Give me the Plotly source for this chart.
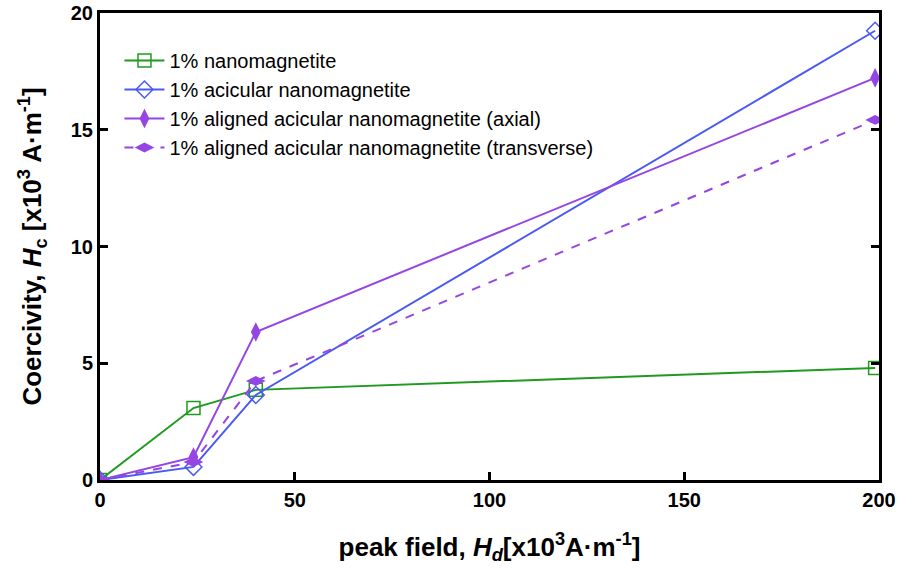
import plotly.graph_objects as go

x_vals = [0, 24, 40, 199]
nano = [0, 3.08, 3.86, 4.8]
acicular = [0, 0.56, 3.64, 19.24]
axial = [0, 0.98, 6.34, 17.22]
transverse = [0, 0.77, 4.24, 15.42]

names = ["1% nanomagnetite", "1% acicular nanomagnetite",
         "1% aligned acicular nanomagnetite (axial)",
         "1% aligned acicular nanomagnetite (transverse)"]

GREEN = "#1f9a1f"
BLUE = "#4a5af2"
PURPLE = "#9545e3"
FAM = "Liberation Sans, Arial"

fig = go.Figure()
fig.add_trace(go.Scatter(x=x_vals, y=nano, name=names[0], mode="lines+markers",
                         line=dict(color=GREEN, width=2),
                         marker=dict(symbol="square-open", size=13, color=GREEN, line=dict(width=1.5))))
fig.add_trace(go.Scatter(x=x_vals, y=acicular, name=names[1], mode="lines+markers",
                         line=dict(color=BLUE, width=2),
                         marker=dict(symbol="diamond-open", size=13, color=BLUE, line=dict(width=1.5))))
fig.add_trace(go.Scatter(x=x_vals, y=axial, name=names[2], mode="lines+markers",
                         line=dict(color=PURPLE, width=2),
                         marker=dict(symbol="diamond-tall", size=14, color=PURPLE)))
fig.add_trace(go.Scatter(x=x_vals, y=transverse, name=names[3], mode="lines+markers",
                         line=dict(color=PURPLE, width=2, dash="dash"),
                         marker=dict(symbol="diamond-wide", size=14, color=PURPLE)))

tickfont = dict(family=FAM, size=20, color="black", weight="bold")
titlefont = dict(family=FAM, size=26, color="black", weight="bold")
fig.update_layout(
    width=899, height=573,
    margin=dict(l=100, r=20, t=13, b=93),
    paper_bgcolor="white", plot_bgcolor="white",
    font=dict(family=FAM, color="black"),
    showlegend=True,
    legend=dict(x=0.025, y=0.94, xanchor="left", yanchor="top",
                font=dict(family=FAM, size=20, color="black"),
                bgcolor="rgba(0,0,0,0)", tracegroupgap=0, itemwidth=40),
    xaxis=dict(range=[0, 200], tickvals=[0, 50, 100, 150, 200], ticks="inside",
               ticklen=8, tickwidth=3, tickcolor="black", showline=True, linewidth=3,
               linecolor="black", mirror=True, showgrid=False, zeroline=False,
               tickfont=tickfont, automargin=False,
               title=dict(text="peak field, <i>H</i><sub><i>d</i></sub>[x10<sup>3</sup>A·m<sup>-1</sup>]",
                          font=titlefont, standoff=28)),
    yaxis=dict(range=[0, 20], tickvals=[0, 5, 10, 15, 20], ticks="inside",
               ticklen=8, tickwidth=3, tickcolor="black", showline=True, linewidth=3,
               linecolor="black", mirror="ticks", showgrid=False, zeroline=False,
               tickfont=tickfont, automargin=False,
               title=dict(text="Coercivity, <i>H</i><sub>c</sub> [x10<sup>3</sup> A·m<sup>-1</sup>]",
                          font=titlefont, standoff=22)),
)
fig.write_html("out.html")
